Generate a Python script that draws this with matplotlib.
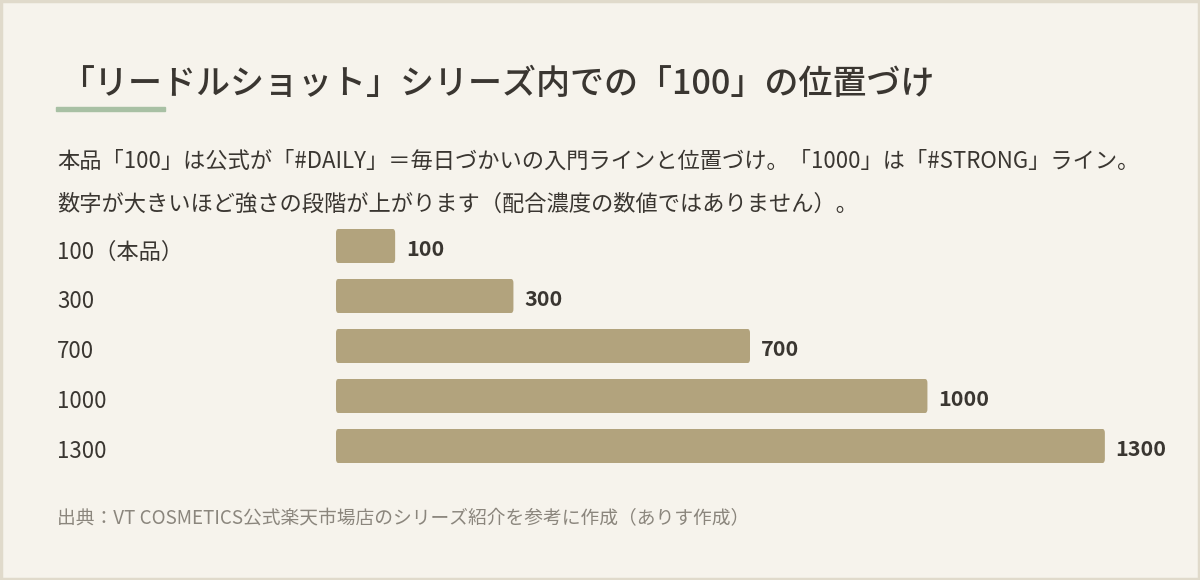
import matplotlib.pyplot as plt
from matplotlib.patches import FancyBboxPatch, Rectangle

plt.rcParams['font.family'] = ['Noto Sans CJK JP', 'DejaVu Sans']

labels = ['100（本品）', '300', '700', '1000', '1300']
values = [100, 300, 700, 1000, 1300]
value_text = ['100', '300', '700', '1000', '1300']

title = '「リードルショット」シリーズ内での「100」の位置づけ'
note1 = '本品「100」は公式が「#DAILY」＝毎日づかいの入門ラインと位置づけ。「1000」は「#STRONG」ライン。'
note2 = '数字が大きいほど強さの段階が上がります（配合濃度の数値ではありません）。'
source = '出典：VT COSMETICS公式楽天市場店のシリーズ紹介を参考に作成（ありす作成）'

bg = '#f6f3ec'
bar_col = '#b2a37d'
txt = '#3a3631'

fig = plt.figure(figsize=(12, 5.8), dpi=100, facecolor=bg)
# frame
fig.patches.append(Rectangle((0.001, 0.002), 0.998, 0.996, transform=fig.transFigure,
                             fill=False, edgecolor='#e0dacb', linewidth=2.5))

fig.text(60 / 1200, 1 - 84 / 580, title, fontsize=24.5, fontweight='medium', color=txt, va='center')
fig.patches.append(Rectangle((56 / 1200, 1 - 111 / 580), 109 / 1200, 4 / 580,
                             transform=fig.transFigure, color='#a8c0a4'))
fig.text(57 / 1200, 1 - 161 / 580, note1, fontsize=16, color=txt, va='center')
fig.text(57 / 1200, 1 - 204 / 580, note2, fontsize=16, color=txt, va='center')
fig.text(57 / 1200, 1 - 519 / 580, source, fontsize=13.5, color='#8b867d', va='center')

ax = fig.add_axes([336 / 1200, 1 - 471 / 580, 828 / 1200, 250 / 580])
ax.set_facecolor(bg)
ax.set_xlim(0, 1400)
ax.set_ylim(4.5, -0.5)
ax.axis('off')

for i, (lab, v, vt) in enumerate(zip(labels, values, value_text)):
    ax.add_patch(FancyBboxPatch((0, i - 0.34), v, 0.68,
                                boxstyle='round,pad=0,rounding_size=4',
                                mutation_aspect=0.02,
                                facecolor=bar_col, edgecolor='none'))
    ax.text(v + 18, i + 0.06, vt, fontsize=15.5, fontweight='bold', color=txt, va='center')
    fig.text(57 / 1200, 1 - (246 + 50 * i + 6) / 580, lab, fontsize=16, color=txt, va='center')

fig.savefig('out.png', dpi=100, facecolor=bg)
